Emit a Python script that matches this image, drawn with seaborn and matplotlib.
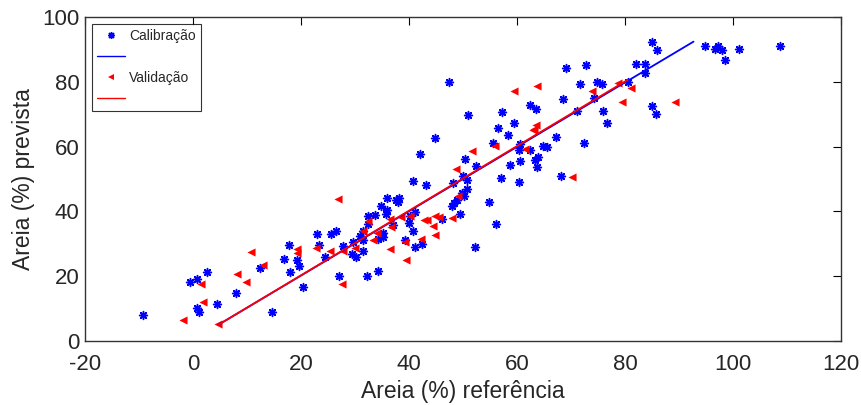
import numpy as np
import pandas as pd
import matplotlib
matplotlib.use('Agg')
import matplotlib.pyplot as plt
from matplotlib.lines import Line2D
import seaborn as sns

# ── Calibração (referência, prevista) ────────────────────────────────
cal_ref = [85.1, 85.9, 94.8, 96.7, 97.3, 97.9, 98.5, 101.2, 108.7, 69.0,
           72.8, 82.0, 83.7, 83.7, 80.6, 74.9, 75.7, 71.7, 68.6, 74.2,
           71.2, 75.9, 76.7, 85.1, 85.7, 72.4, 68.1,
           -9.3, -0.5, 0.7, 2.6, 0.7, 1.1, 4.4, 7.9, 14.6, 17.8,
           16.8, 19.2, 19.7, 18.0, 20.3, 23.0, 23.4, 25.5, 26.5, 24.5,
           27.1, 12.5,
           47.5, 62.5, 63.6, 57.3, 51.0, 59.4, 56.4, 58.3, 55.6, 60.6,
           60.3, 62.5, 64.8, 65.6, 67.2, 63.9, 63.3, 63.8, 60.6, 58.8,
           57.0, 60.3, 44.9, 42.1, 50.4, 52.4, 50.0, 50.7, 50.7, 49.9,
           50.2, 48.4, 48.0, 48.2, 49.4, 54.8, 56.1, 52.3, 40.7, 43.1,
           35.9, 34.8, 36.0, 35.7, 37.6, 38.2, 37.9, 41.1, 40.1, 40.0,
           32.4, 33.8, 32.4, 37.1, 35.1, 35.2, 34.2, 31.4, 30.9, 31.4,
           29.6, 27.7, 29.5, 30.2, 31.5, 32.3, 34.2, 40.7, 39.2, 41.2,
           42.4, 46.2, 48.9]
cal_pred = [92.4, 89.7, 90.9, 90.1, 90.9, 89.7, 86.6, 90.2, 90.9, 84.2,
            85.3, 85.4, 85.6, 82.6, 80.0, 80.0, 79.4, 79.2, 74.6, 75.1,
            70.9, 71.1, 67.4, 72.4, 70.2, 61.0, 50.8,
            8.0, 18.1, 19.0, 21.2, 10.3, 8.9, 11.3, 14.7, 8.8, 29.5,
            25.4, 25.1, 23.2, 21.2, 16.7, 33.0, 29.5, 33.0, 33.9, 26.0,
            20.0, 22.6,
            80.0, 72.7, 71.7, 70.7, 69.8, 67.4, 65.8, 63.5, 61.1, 60.8,
            59.0, 59.0, 60.2, 60.0, 62.9, 56.7, 55.8, 53.7, 55.7, 54.4,
            50.2, 49.1, 62.6, 57.8, 56.3, 54.0, 50.8, 49.8, 47.0, 45.8,
            44.8, 42.7, 41.6, 48.8, 39.3, 43.0, 36.1, 29.0, 49.3, 48.0,
            44.1, 41.7, 40.3, 39.1, 43.4, 44.0, 42.9, 39.8, 38.5, 36.4,
            38.5, 38.8, 36.0, 35.7, 33.4, 32.1, 31.6, 33.9, 32.4, 31.1,
            30.6, 29.4, 27.0, 25.9, 27.8, 20.2, 21.5, 33.8, 31.1, 29.0,
            29.9, 37.8, 43.4]

# ── Validação (referência, prevista) ─────────────────────────────────
val_ref = [78.7, 73.9, 81.1, 79.5, 89.2, 70.2,
           1.4, 1.8, -1.9, 4.7, 8.1, 9.9, 10.7, 13.0, 19.3, 19.3, 22.8,
           25.4, 26.9,
           59.4, 63.8, 63.6, 63.1, 62.9, 55.9, 61.5, 51.6, 48.8, 49.0,
           32.5, 36.5, 36.7, 38.5, 40.2, 42.8, 43.3, 44.9, 45.6, 48.0,
           44.4, 44.9, 42.3, 39.3, 39.4, 36.4, 34.0, 33.4, 31.4, 30.0,
           27.8, 27.6]
val_pred = [79.7, 77.1, 78.0, 73.9, 73.7, 50.5,
            17.7, 12.1, 6.5, 5.4, 20.8, 18.2, 27.6, 23.6, 28.3, 27.3, 28.7,
            27.8, 43.7,
            77.2, 78.6, 66.6, 65.4, 65.0, 60.3, 59.3, 58.6, 53.0, 44.9,
            37.1, 37.7, 35.2, 38.3, 38.5, 37.5, 37.5, 38.5, 38.3, 38.1,
            35.6, 32.6, 31.5, 30.6, 25.1, 28.4, 33.4, 31.1, 33.8, 28.8,
            27.8, 17.7]

# ── Retas de ajuste ──────────────────────────────────────────────────
cal_fit_x = [4.7, 92.7]
cal_fit_y = [5.0, 92.4]
val_fit_x = [4.7, 80.5]
val_fit_y = [5.0, 80.6]

df_cal = pd.DataFrame({"ref": cal_ref, "pred": cal_pred})
df_val = pd.DataFrame({"ref": val_ref, "pred": val_pred})

sns.set_style("white")
plt.rcParams['font.family'] = ['Liberation Sans', 'DejaVu Sans']
plt.rcParams['axes.unicode_minus'] = False   # "-20" com hífen, como no MATLAB
plt.rcParams['xtick.direction'] = 'in'
plt.rcParams['ytick.direction'] = 'in'

fig = plt.figure(figsize=(8.61, 4.05), dpi=100)
ax = fig.add_axes([0.0987, 0.158, 0.878, 0.80])

asterisco = (8, 2, 0)
sns.scatterplot(data=df_cal, x="ref", y="pred", marker=asterisco, color="blue",
                s=32, linewidth=1.1, edgecolor="blue", ax=ax, zorder=3)
sns.scatterplot(data=df_val, x="ref", y="pred", marker="<", color="red",
                s=34, linewidth=0, ax=ax, zorder=4)
sns.lineplot(x=cal_fit_x, y=cal_fit_y, color="blue", lw=1.3, ax=ax, zorder=5)
sns.lineplot(x=val_fit_x, y=val_fit_y, color="red", lw=1.3, ax=ax, zorder=6)

ax.set_xlim(-20, 120)
ax.set_ylim(0, 100)
ax.set_xticks(np.arange(-20, 121, 20))
ax.set_yticks(np.arange(0, 101, 20))
ax.tick_params(axis="both", labelsize=16, length=6, width=0.8,
               top=True, right=True, color="black")
ax.tick_params(axis="x", pad=9)
ax.tick_params(axis="y", pad=4)
for sp in ax.spines.values():
    sp.set_color("#333333")
    sp.set_linewidth(1.0)
ax.set_xlabel("Areia (%) referência", fontsize=16.5, labelpad=4)
ax.set_ylabel("Areia (%) prevista", fontsize=16.5, labelpad=5)

handles = [
    Line2D([], [], ls="none", marker=asterisco, color="blue", markersize=5, mew=1.0),
    Line2D([], [], color="blue", lw=1.0),
    Line2D([], [], ls="none", marker="<", color="red", markersize=5, mew=0),
    Line2D([], [], color="red", lw=1.0),
]
leg = ax.legend(handles, ["Calibração", "", "Validação", ""], loc="upper left",
                fontsize=10, frameon=True, fancybox=False, edgecolor="black",
                borderaxespad=0.5, handlelength=2.0, labelspacing=0.5,
                handletextpad=0.35, borderpad=0.35)
leg.get_frame().set_linewidth(0.8)

fig.savefig("out.png", dpi=100)
